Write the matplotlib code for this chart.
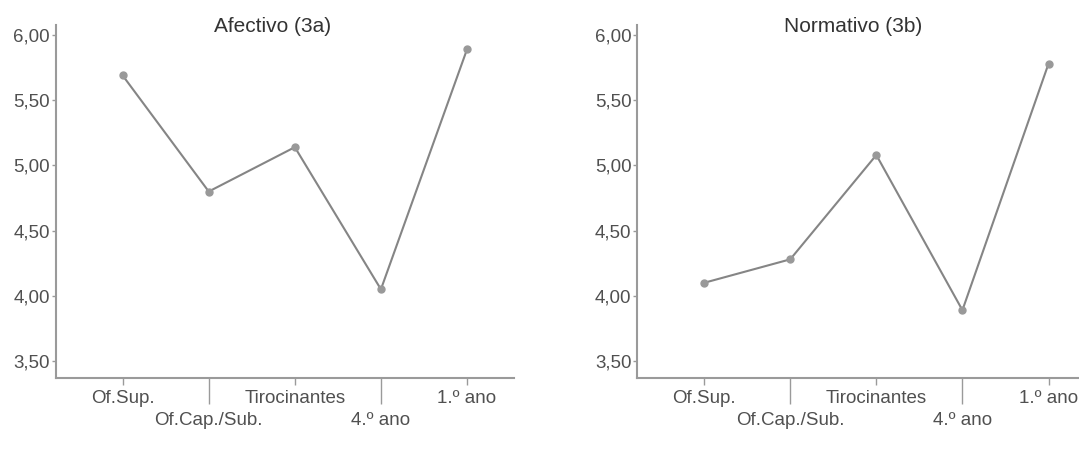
import matplotlib
matplotlib.use("Agg")
import matplotlib.pyplot as plt

plt.rcParams['font.family'] = ['Liberation Sans', 'DejaVu Sans']

categories = ["Of.Sup.", "Of.Cap./Sub.", "Tirocinantes", "4.º ano", "1.º ano"]
afectivo = [5.69, 4.80, 5.14, 4.05, 5.89]
normativo = [4.10, 4.28, 5.08, 3.89, 5.78]
yticks = [3.50, 4.00, 4.50, 5.00, 5.50, 6.00]
ytick_labels = ["3,50", "4,00", "4,50", "5,00", "5,50", "6,00"]
titles = ["Afectivo (3a)", "Normativo (3b)"]

W, H = 1079, 453
fig = plt.figure(figsize=(W / 100, H / 100), dpi=100)

axw = 458 / W
axb = 1 - 378 / H
axh = (378 - 24.6) / H
positions = [55.5 / W, 637 / W]
title_x = [273 / W, 853 / W]

spine_col = "#9a9a9a"
line_col = "#858585"
text_col = "#505050"

for i, (series, title) in enumerate(zip([afectivo, normativo], titles)):
    ax = fig.add_axes([positions[i], axb, axw, axh])
    x = list(range(len(categories)))
    ax.plot(x, series, color=line_col, lw=1.5, marker='o', markersize=5,
            markerfacecolor="#999999", markeredgecolor="#999999", zorder=3)
    ax.set_xlim(-0.78, 4.54)
    ax.set_ylim(3.37, 6.08)
    for s in ['top', 'right']:
        ax.spines[s].set_visible(False)
    for s in ['left', 'bottom']:
        ax.spines[s].set_color(spine_col)
        ax.spines[s].set_linewidth(1.5)
    ax.set_yticks(yticks)
    ax.set_yticklabels(ytick_labels)
    ax.tick_params(axis='y', length=3, width=1, color=spine_col, pad=1,
                   labelsize=13.5, labelcolor=text_col)
    major = [0, 2, 4]
    minor = [1, 3]
    ax.set_xticks(major, [categories[k] for k in major])
    ax.set_xticks(minor, [categories[k] for k in minor], minor=True)
    ax.tick_params(axis='x', which='major', length=5, width=1, color=spine_col,
                   pad=3.5, labelsize=13.5, labelcolor=text_col)
    ax.tick_params(axis='x', which='minor', length=19, width=1, color=spine_col,
                   pad=5.5, labelsize=13.5, labelcolor=text_col)
    fig.text(title_x[i], 1 - 26 / H, title, ha='center', va='center',
             fontsize=15, color="#333333")

fig.savefig("out.png", dpi=100, facecolor="white")
